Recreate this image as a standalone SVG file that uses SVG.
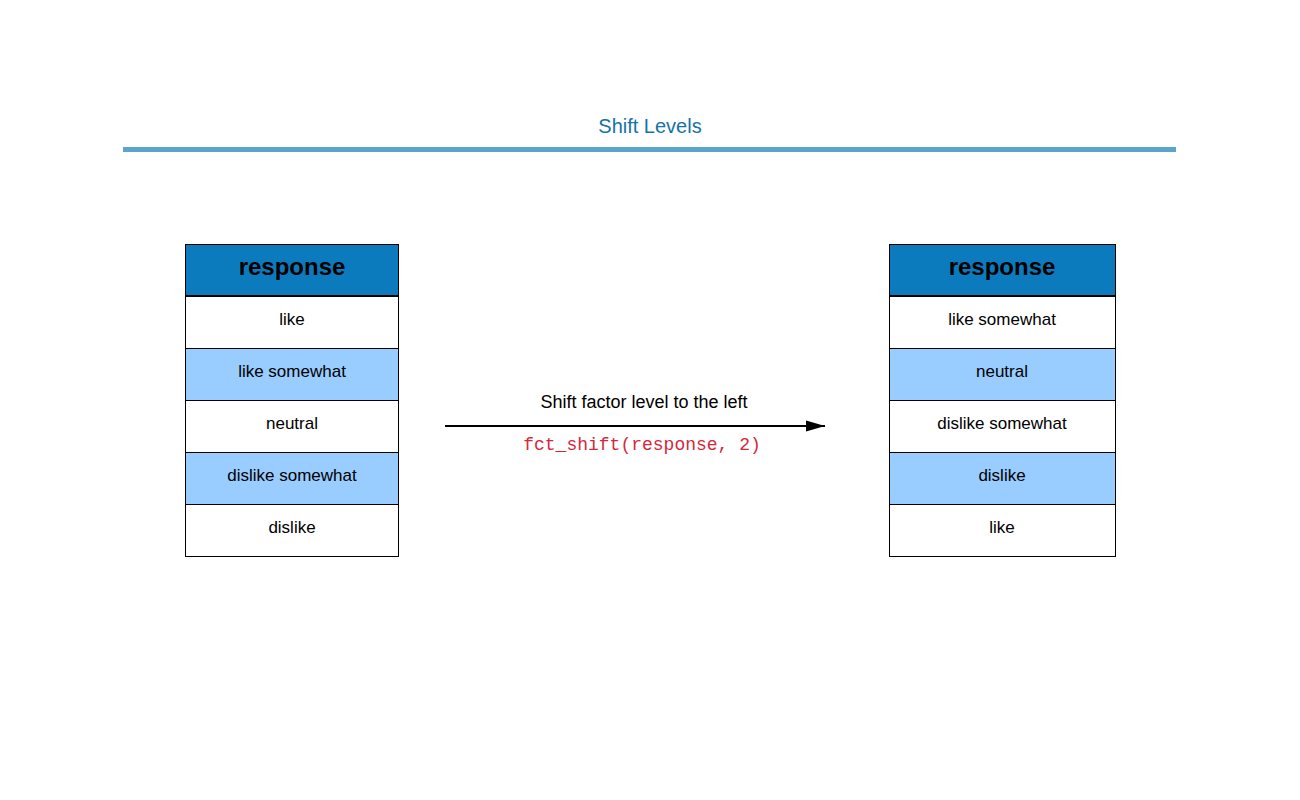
<svg xmlns="http://www.w3.org/2000/svg" width="1300" height="800" viewBox="0 0 1300 800">
<style>
.hd{fill:#0c7bbd;stroke:#000;stroke-width:1}
.w{fill:#fff;stroke:#000;stroke-width:1}
.b{fill:#99ccff;stroke:#000;stroke-width:1}
.ht{font-family:"Liberation Sans",Arial,sans-serif;font-size:24px;font-weight:bold;fill:#000;text-anchor:middle}
.t{font-family:"Liberation Sans",Arial,sans-serif;font-size:17px;fill:#000;text-anchor:middle}
.sep{stroke:#000;stroke-width:2}
</style>
<defs>
<marker id="ah" markerWidth="19" markerHeight="12" refX="19" refY="6" orient="auto" markerUnits="userSpaceOnUse">
<path d="M0,0.5 L19,6 L0,11.5 Z" fill="#000"/>
</marker>
</defs>
<rect width="1300" height="800" fill="#fff"/>
<g id="title">
<text x="650" y="133" font-family="'Liberation Sans',Arial,sans-serif" font-size="20" fill="#1672a8" text-anchor="middle">Shift Levels</text>
<rect x="123" y="147" width="1053" height="5" fill="#5aa5c9"/>
</g>
<g id="left-table">
<rect class="hd" x="185.5" y="244.5" width="213" height="52"/>
<text class="ht" x="292" y="275">response</text>
<rect class="w" x="185.5" y="296.5" width="213" height="52"/>
<text class="t" x="292" y="325">like</text>
<rect class="b" x="185.5" y="348.5" width="213" height="52"/>
<text class="t" x="292" y="377">like somewhat</text>
<rect class="w" x="185.5" y="400.5" width="213" height="52"/>
<text class="t" x="292" y="429">neutral</text>
<rect class="b" x="185.5" y="452.5" width="213" height="52"/>
<text class="t" x="292" y="481">dislike somewhat</text>
<rect class="w" x="185.5" y="504.5" width="213" height="52"/>
<text class="t" x="292" y="533">dislike</text>
<line class="sep" x1="185.5" y1="296" x2="398.5" y2="296"/>
</g>
<g id="right-table">
<rect class="hd" x="889.5" y="244.5" width="226" height="52"/>
<text class="ht" x="1002" y="275">response</text>
<rect class="w" x="889.5" y="296.5" width="226" height="52"/>
<text class="t" x="1002" y="325">like somewhat</text>
<rect class="b" x="889.5" y="348.5" width="226" height="52"/>
<text class="t" x="1002" y="377">neutral</text>
<rect class="w" x="889.5" y="400.5" width="226" height="52"/>
<text class="t" x="1002" y="429">dislike somewhat</text>
<rect class="b" x="889.5" y="452.5" width="226" height="52"/>
<text class="t" x="1002" y="481">dislike</text>
<rect class="w" x="889.5" y="504.5" width="226" height="52"/>
<text class="t" x="1002" y="533">like</text>
<line class="sep" x1="889.5" y1="296" x2="1115.5" y2="296"/>
</g>
<g id="connectors">
<line x1="445" y1="426" x2="825" y2="426" stroke="#000" stroke-width="2" marker-end="url(#ah)"/>
<text x="644" y="408" font-family="'Liberation Sans',Arial,sans-serif" font-size="18" fill="#000" text-anchor="middle">Shift factor level to the left</text>
<text x="642" y="450" font-family="'Liberation Mono','Courier New',monospace" font-size="18" fill="#d3283a" text-anchor="middle">fct_shift(response, 2)</text>
</g>
</svg>
